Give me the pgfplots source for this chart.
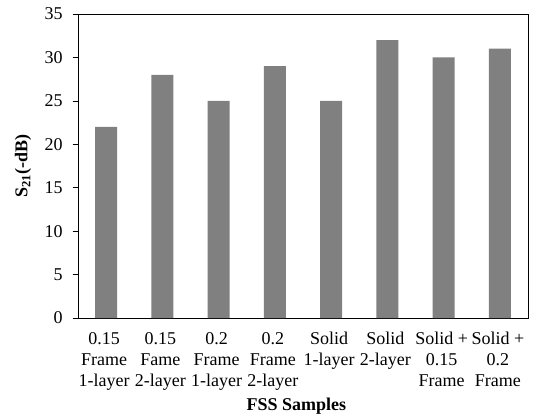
\documentclass[border=0pt]{standalone}
\usepackage{pgfplots}
\pgfplotsset{compat=1.18}
\usepackage{fontspec}
\setmainfont{Liberation Serif}
\begin{document}
\begin{tikzpicture}
\path[use as bounding box] (-58.5pt,-75.75pt) rectangle (343.5pt,238.5pt);
\begin{axis}[
  at={(0,0)}, anchor=south west,
  width=337.5pt, height=228pt, scale only axis,
  xmin=-0.5, xmax=7.5, ymin=0, ymax=35,
  ytick={0,5,...,35},
  xtick={0,...,7},
  xticklabels={{0.15\\Frame\\1-layer},{0.15\\Fame\\2-layer},{0.2\\Frame\\1-layer},{0.2\\Frame\\2-layer},{Solid\\1-layer},{Solid\\2-layer},{Solid +\\0.15\\Frame},{Solid +\\0.2\\Frame}},
  xticklabel style={align=center, font=\fontsize{13.5}{15.75}\selectfont, anchor=north, yshift=-3pt, xshift=-1.5pt},
  yticklabel style={font=\fontsize{13.5}{15}\selectfont, xshift=-4pt},
  major x tick style={draw=none},
  extra x ticks={-0.5,0.5,...,7.5},
  extra x tick labels={},
  extra x tick style={tick style={draw=black, thin}, major tick length=4pt},
  tick align=outside,
  major tick length=4pt,
  y tick style={black, thin},
  axis line style={black, thin},
  xtick pos=bottom, ytick pos=left,
  /pgf/number format/assume math mode=true,
  xlabel={\textbf{FSS Samples}},
  ylabel={\textbf{S\textsubscript{21}(-dB)}},
  label style={font=\fontsize{13.5}{15}\selectfont},
  ylabel style={at={(axis description cs:-0.122,0.5)}, anchor=center},
  xlabel style={at={(axis description cs:0.5,0)}, anchor=center, yshift=-66pt, xshift=-5pt},
]
\addplot[ybar, bar width=0.39, fill=gray, draw=none] coordinates {
(0,22) (1,28) (2,25) (3,29) (4,25) (5,32) (6,30) (7,31)
};
\end{axis}
\end{tikzpicture}
\end{document}
